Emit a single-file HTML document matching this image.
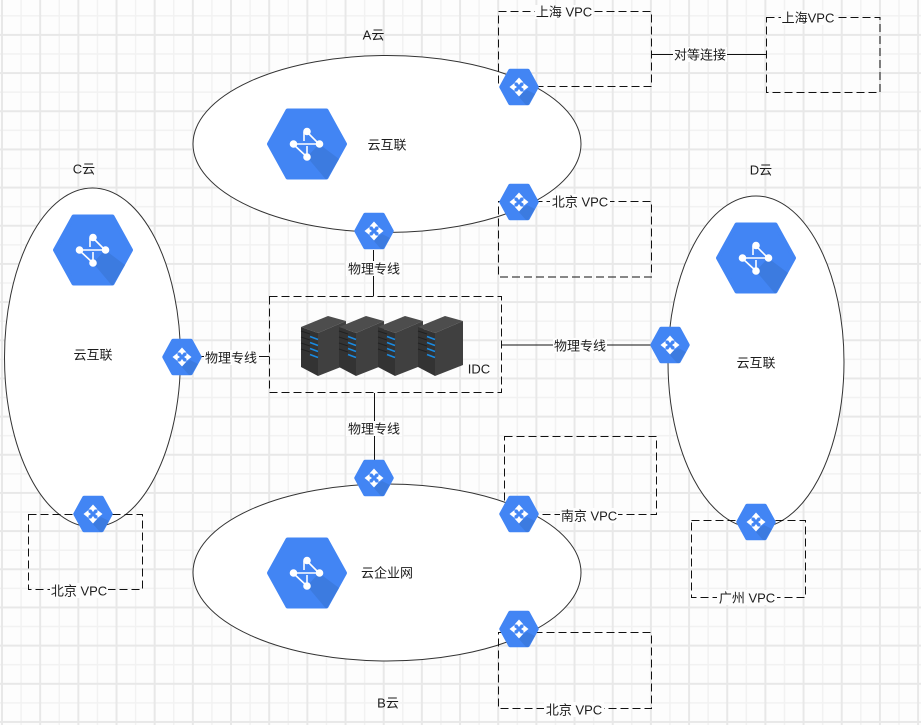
<!DOCTYPE html>
<html>
<head>
<meta charset="utf-8">
<style>
html,body{margin:0;padding:0;background:#fdfdfd}
svg{display:block}
text{font-family:"Liberation Sans","Noto Sans CJK SC",sans-serif;font-size:13px;fill:#1c1c1c;text-anchor:middle;dominant-baseline:central}
.d{fill:none;stroke:#111;stroke-width:1;stroke-dasharray:8 4}
.l{stroke:#111;stroke-width:1;fill:none}
.e{fill:#fff;stroke:#333;stroke-width:1}
.bg{fill:#fdfdfd}
</style>
</head>
<body>
<svg width="921" height="725" viewBox="0 0 921 725" xmlns="http://www.w3.org/2000/svg">
<defs>
<pattern id="g" patternUnits="userSpaceOnUse" x="2" y="-3.27" width="38.17" height="38.17">
<rect x="18.33" width="1.5" height="38.17" fill="#f2f2f2"/>
<rect y="18.33" width="38.17" height="1.5" fill="#f2f2f2"/>
<rect x="-1" width="2" height="38.17" fill="#e8e8e8"/>
<rect x="37.17" width="2" height="38.17" fill="#e8e8e8"/>
<rect y="-1" width="38.17" height="2" fill="#e8e8e8"/>
<rect y="37.17" width="38.17" height="2" fill="#e8e8e8"/>
</pattern>
<g id="big">
<polygon points="-38,0 -19.5,-33.5 19.5,-33.5 38,0 19.5,33.5 -19.5,33.5" fill="#4285f4" stroke="#4285f4" stroke-width="4" stroke-linejoin="round"/>
<polygon points="12,0 32,15 20,35 18.500,35 0,13" fill="#3c7be0"/>
<g stroke="#fff" stroke-width="1.6" fill="#fff">
<line x1="-14" y1="0" x2="12" y2="0"/>
<line x1="0" y1="-12" x2="12" y2="0"/>
<line x1="-14" y1="0" x2="0" y2="13"/>
<line x1="-3" y1="-12" x2="-3" y2="-3"/>
<line x1="0" y1="2" x2="0" y2="10"/>
<circle cx="0" cy="-12.5" r="3"/>
<circle cx="-13.5" cy="0" r="3"/>
<circle cx="12.5" cy="0" r="3"/>
<circle cx="0" cy="13" r="3"/>
</g>
</g>
<g id="sm">
<polygon points="-18,0 -9,-16.5 9,-16.5 18,0 9,16.5 -9,16.5" fill="#4285f4" stroke="#4285f4" stroke-width="3.5" stroke-linejoin="round"/>
<polygon points="8,3 16,7 9,18 7,18 -1,9" fill="#3c7be0"/>
<g fill="#fff">
<polygon points="0,-9.5 4.5,-4.5 1.8,-4.5 0,-2 -1.8,-4.5 -4.5,-4.5"/>
<polygon points="0,9.5 4.5,4.5 1.8,4.5 0,2 -1.8,4.5 -4.5,4.5"/>
<polygon points="-9.5,0 -4.5,-4 -4.5,-1.8 -2,0 -4.5,1.8 -4.5,4"/>
<polygon points="9.5,0 4.5,-4 4.5,-1.8 2,0 4.5,1.8 4.5,4"/>
</g>
</g>
<g id="rack">
<polygon points="0,327 27,316 45,321 17,333" fill="#4d4d4d"/>
<polygon points="0,327 17,333 17,376 0,367" fill="#333"/>
<polygon points="17,333 45,321 45,365 17,376" fill="#404040"/>
<g stroke="#222" stroke-width="1">
<line x1="0" y1="331" x2="9" y2="334"/>
<line x1="0" y1="337" x2="9" y2="340"/>
<line x1="0" y1="343" x2="9" y2="346"/>
<line x1="0" y1="349" x2="9" y2="352"/>
</g>
<g stroke="#1a8ae0" stroke-width="1.6">
<line x1="9" y1="336.500" x2="17" y2="339.500"/>
<line x1="9" y1="342.500" x2="17" y2="345.500"/>
<line x1="9" y1="348.500" x2="17" y2="351.500"/>
<line x1="9" y1="354.500" x2="17" y2="357.500"/>
</g>
</g>
</defs>

<rect width="921" height="725" fill="url(#g)"/>

<!-- ellipses -->
<ellipse class="e" cx="387" cy="144" rx="194" ry="88.500"/>
<ellipse class="e" cx="387" cy="572.500" rx="194" ry="88.500"/>
<ellipse class="e" cx="92.500" cy="357.500" rx="88" ry="169.500"/>
<ellipse class="e" cx="756" cy="362" rx="88" ry="166"/>

<!-- dashed boxes -->
<rect class="d" x="498.500" y="11.500" width="153" height="75"/>
<rect class="d" x="766.500" y="17.500" width="113.500" height="75"/>
<rect class="d" x="498.500" y="201.500" width="153" height="75.500"/>
<rect class="d" x="269.500" y="296.500" width="232" height="96"/>
<rect class="d" x="504.500" y="436.500" width="152" height="78"/>
<rect class="d" x="498.500" y="632.500" width="153" height="76"/>
<rect class="d" x="28.500" y="514.500" width="114" height="75"/>
<rect class="d" x="691.500" y="520.500" width="114" height="77"/>

<!-- connectors -->
<path class="l" d="M652 54.500H766"/>
<path class="l" d="M373.500 250V296"/>
<path class="l" d="M374.500 393V460"/>
<path class="l" d="M200 356.500H269"/>
<path class="l" d="M501 345H652"/>

<!-- racks -->
<use href="#rack" x="301"/>
<use href="#rack" x="339"/>
<use href="#rack" x="378"/>
<use href="#rack" x="418"/>

<!-- large icons -->
<use href="#big" x="307" y="144"/>
<use href="#big" x="93" y="250"/>
<use href="#big" x="756" y="258"/>
<use href="#big" x="307" y="573"/>

<!-- small icons -->
<use href="#sm" x="519" y="87"/>
<use href="#sm" x="519" y="202"/>
<use href="#sm" x="374" y="231"/>
<use href="#sm" x="182" y="357"/>
<use href="#sm" x="670" y="345"/>
<use href="#sm" x="374" y="478"/>
<use href="#sm" x="519" y="514"/>
<use href="#sm" x="519" y="629"/>
<use href="#sm" x="93" y="514"/>
<use href="#sm" x="756" y="522"/>

<!-- label backgrounds -->
<rect class="bg" x="535" y="5" width="58" height="14"/>
<rect class="bg" x="781" y="10" width="54" height="15"/>
<rect class="bg" x="550" y="194" width="60" height="15"/>
<rect class="bg" x="673" y="47" width="54" height="15"/>
<rect class="bg" x="346" y="261" width="56" height="15"/>
<rect class="bg" x="346" y="421" width="56" height="15"/>
<rect class="bg" x="204" y="350" width="55" height="15"/>
<rect class="bg" x="553" y="338" width="54" height="15"/>
<rect class="bg" x="560" y="508" width="58" height="15"/>
<rect class="bg" x="50" y="583" width="58" height="15"/>
<rect class="bg" x="717" y="590" width="60" height="15"/>
<rect class="bg" x="544" y="702" width="60" height="15"/>

<!-- labels -->
<text x="373.500" y="35">A云</text>
<text x="84" y="169">C云</text>
<text x="761" y="170">D云</text>
<text x="388" y="703">B云</text>
<text x="387" y="145">云互联</text>
<text x="93" y="355">云互联</text>
<text x="756" y="363">云互联</text>
<text x="387" y="573">云企业网</text>
<text x="479" y="369">IDC</text>
<text x="564" y="12">上海 VPC</text>
<text x="808" y="18">上海VPC</text>
<text x="580" y="202">北京 VPC</text>
<text x="79" y="591">北京 VPC</text>
<text x="589" y="516">南京 VPC</text>
<text x="747" y="598">广州 VPC</text>
<text x="574" y="710">北京 VPC</text>
<text x="700" y="55">对等连接</text>
<text x="374" y="269">物理专线</text>
<text x="374" y="429">物理专线</text>
<text x="231" y="358">物理专线</text>
<text x="580" y="346">物理专线</text>
</svg>
</body>
</html>
